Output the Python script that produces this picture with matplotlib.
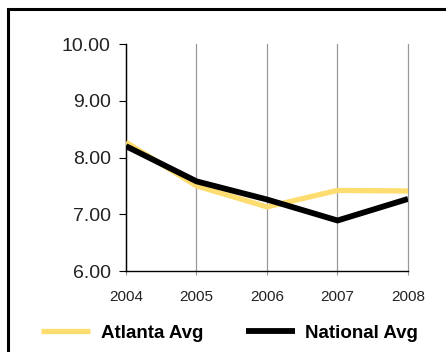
import matplotlib.pyplot as plt
from matplotlib.patches import Rectangle

plt.rcParams['font.family'] = ['Liberation Sans', 'DejaVu Sans']

years = [2004, 2005, 2006, 2007, 2008]
atlanta = [8.27, 7.50, 7.13, 7.42, 7.41]
national = [8.20, 7.58, 7.26, 6.89, 7.27]
yticks = [6.0, 7.0, 8.0, 9.0, 10.0]

fig = plt.figure(figsize=(4.46, 3.52), dpi=100)
ax = fig.add_axes([0.2825, 0.2301, 0.6323, 0.6449])

ax.plot(years, atlanta, color='#FDDD6F', lw=3.8, label='Atlanta Avg', solid_capstyle='butt', zorder=3)
ax.plot(years, national, color='#000000', lw=4.2, label='National Avg', solid_capstyle='butt', zorder=4)

ax.set_xlim(2004, 2008)
ax.set_ylim(6, 10)
ax.set_yticks(yticks)
ax.set_yticklabels(['%.2f' % v for v in yticks], fontsize=14, color='#222222')
ax.set_xticks(years)
ax.set_xticklabels([str(y) for y in years], fontsize=11, color='#222222')
ax.grid(axis='x', color='#999999', lw=0.9)
for gl in ax.get_xgridlines():
    gl.set_clip_on(False)
ax.set_axisbelow(True)
for s in ['top', 'right']:
    ax.spines[s].set_visible(False)
ax.spines['left'].set_linewidth(1.0)
ax.spines['bottom'].set_linewidth(1.0)
ax.tick_params(axis='y', length=5, width=0.8, pad=6)
ax.tick_params(axis='x', length=3, width=0.8, colors='#999999', labelcolor='#222222', pad=11)

fig.legend(loc='center', bbox_to_anchor=(0.515, 0.054), ncol=2, frameon=False,
           handlelength=2.6, handletextpad=0.55, columnspacing=2.3,
           prop={'weight': 'bold', 'size': 13.5})

fig.patches.append(Rectangle((8 / 446, -0.05), 1.1, 1 - 9 / 352 + 0.05, transform=fig.transFigure,
                             fill=False, ec='black', lw=2.2, clip_on=False))

fig.savefig('out.png', dpi=100)
